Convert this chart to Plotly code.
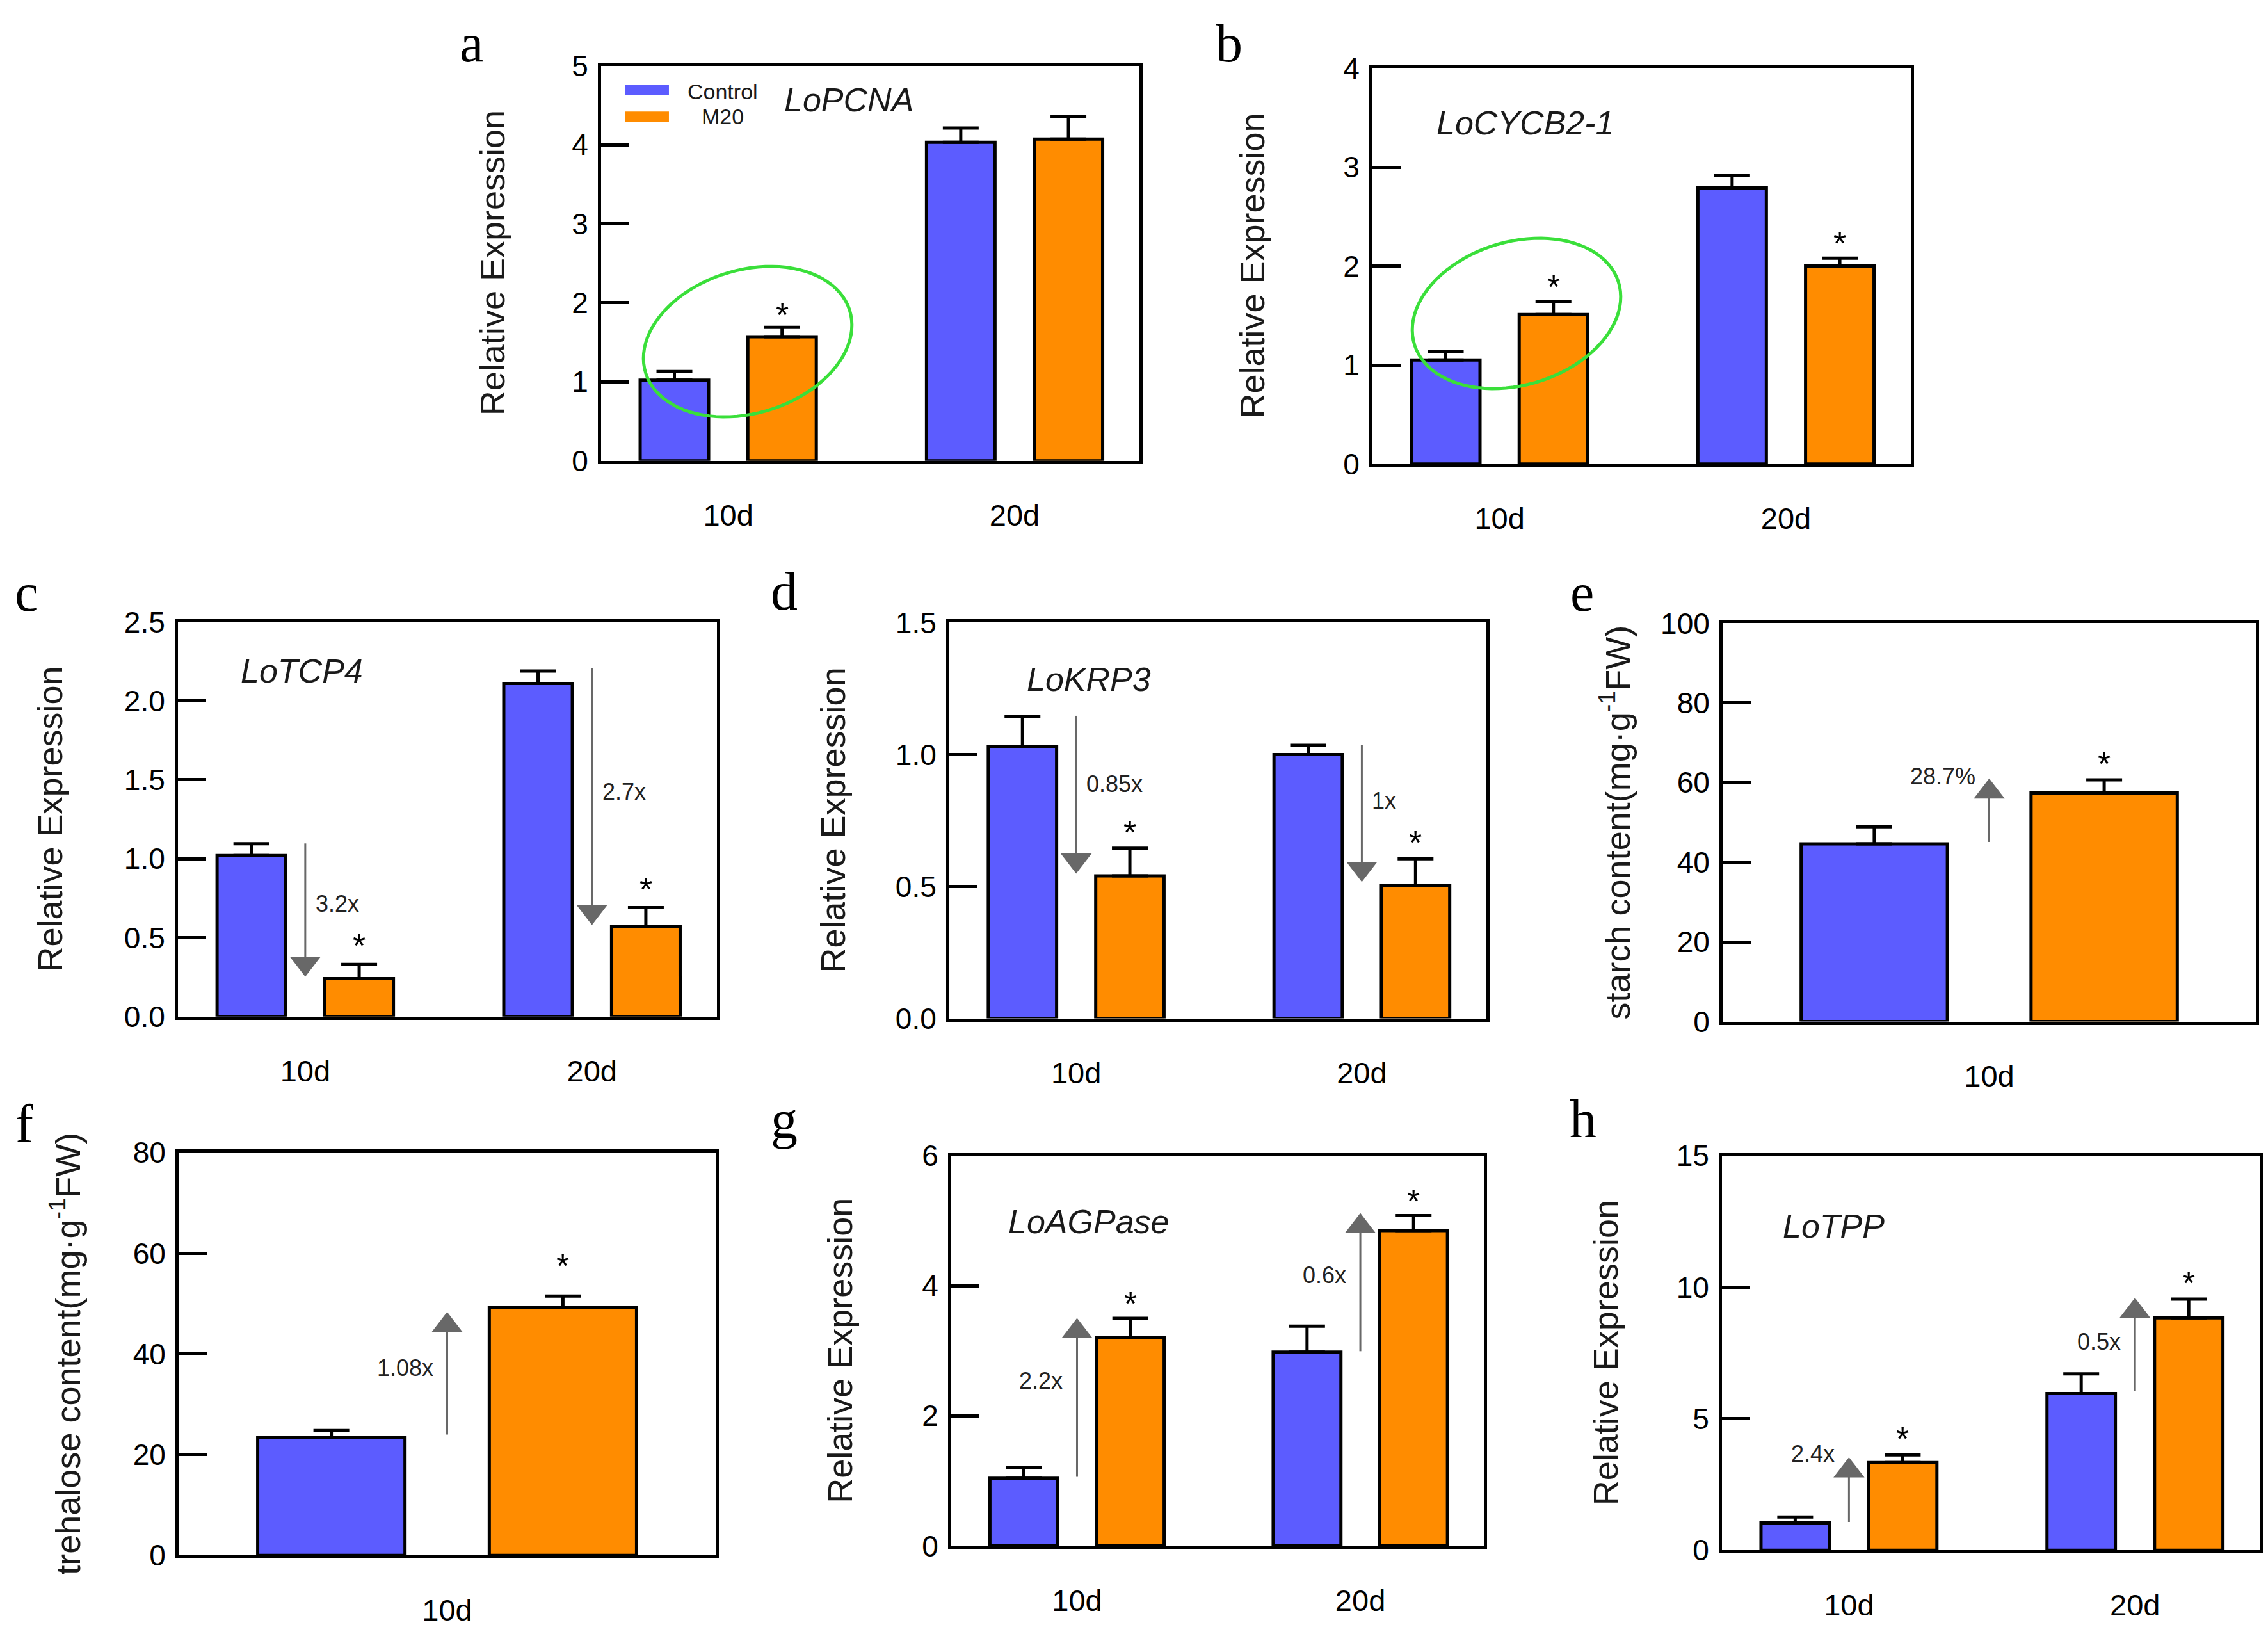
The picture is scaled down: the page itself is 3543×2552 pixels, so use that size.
import math
import plotly.graph_objects as go

W, H = 3543, 2552

BLUE = "#5c5cff"
ORANGE = "#ff8c00"
ARROW_GREY = "#686868"
GREEN = "#3adf3a"
SANS = "Liberation Sans, Arial, Helvetica, sans-serif"
SERIF = "Liberation Serif, Times New Roman, serif"

# ---------------- data ----------------
days2 = ["10d", "20d"]
days1 = ["10d"]

# a  LoPCNA
a_ctrl = [1.02, 4.03]
a_ctrl_err = [0.11, 0.18]
a_m20 = [1.57, 4.07]
a_m20_err = [0.12, 0.29]
a_sig = [True, False]
a_ticks = [0, 1, 2, 3, 4, 5]

# b  LoCYCB2-1
b_ctrl = [1.05, 2.79]
b_ctrl_err = [0.09, 0.13]
b_m20 = [1.51, 2.00]
b_m20_err = [0.13, 0.08]
b_sig = [True, True]
b_ticks = [0, 1, 2, 3, 4]

# c  LoTCP4
c_ctrl = [1.02, 2.11]
c_ctrl_err = [0.075, 0.08]
c_m20 = [0.24, 0.57]
c_m20_err = [0.09, 0.12]
c_sig = [True, True]
c_ticks = [0, 0.5, 1.0, 1.5, 2.0, 2.5]
c_fold = ["3.2x", "2.7x"]

# d  LoKRP3
d_ctrl = [1.03, 1.00]
d_ctrl_err = [0.115, 0.035]
d_m20 = [0.54, 0.505]
d_m20_err = [0.105, 0.10]
d_sig = [True, True]
d_ticks = [0, 0.5, 1.0, 1.5]
d_fold = ["0.85x", "1x"]

# e  starch content
e_ctrl = [44.6]
e_ctrl_err = [4.3]
e_m20 = [57.4]
e_m20_err = [3.3]
e_sig = [True]
e_ticks = [0, 20, 40, 60, 80, 100]
e_fold = ["28.7%"]

# f  trehalose content
f_ctrl = [23.4]
f_ctrl_err = [1.4]
f_m20 = [49.3]
f_m20_err = [2.2]
f_sig = [True]
f_ticks = [0, 20, 40, 60, 80]
f_fold = ["1.08x"]

# g  LoAGPase
g_ctrl = [1.04, 2.98]
g_ctrl_err = [0.16, 0.40]
g_m20 = [3.20, 4.85]
g_m20_err = [0.30, 0.23]
g_sig = [True, True]
g_ticks = [0, 2, 4, 6]
g_fold = ["2.2x", "0.6x"]

# h  LoTPP
h_ctrl = [1.04, 5.96]
h_ctrl_err = [0.23, 0.75]
h_m20 = [3.34, 8.84]
h_m20_err = [0.29, 0.71]
h_sig = [True, True]
h_ticks = [0, 5, 10, 15]
h_fold = ["2.4x", "0.5x"]

# fold-change arrows: (tail value, head-tip value, label value)
c_arrows = [(1.097, 0.254, 0.713), (2.206, 0.582, 1.425)]
d_arrows = [(1.147, 0.55, 0.889), (1.036, 0.518, 0.825)]
e_arrows = [(45.1, 61.0, 61.5)]
f_arrows = [(24.0, 48.3, 37.2)]
g_arrows = [(1.063, 3.5, 2.537), (2.995, 5.116, 4.168)]
h_arrows = [(1.08, 3.53, 3.68), (6.06, 9.59, 7.93)]

YT = "Relative Expression"

panels = [
    dict(letter="a", lpos=(728, 34), cats=days2, ctrl=a_ctrl, ce=a_ctrl_err, m20=a_m20, me=a_m20_err,
         sig=a_sig, ticks=a_ticks, fmt="", box=(931, 70, 1772, 700), gene="LoPCNA", gpos=(0.338, 0.913),
         title=YT, toff=170, arrows=[], fold=[], side="right", star=-12),
    dict(letter="b", lpos=(1912, 34), cats=days2, ctrl=b_ctrl, ce=b_ctrl_err, m20=b_m20, me=b_m20_err,
         sig=b_sig, ticks=b_ticks, fmt="", box=(2136, 74, 2977, 705), gene="LoCYCB2-1", gpos=(0.116, 0.862),
         title=YT, toff=188, arrows=[], fold=[], side="right", star=-8),
    dict(letter="c", lpos=(33, 910), cats=days2, ctrl=c_ctrl, ce=c_ctrl_err, m20=c_m20, me=c_m20_err,
         sig=c_sig, ticks=c_ticks, fmt=".1f", box=(270, 957, 1112, 1586), gene="LoTCP4", gpos=(0.114, 0.876),
         title=YT, toff=200, arrows=c_arrows, fold=c_fold, side="right", star=-2),
    dict(letter="d", lpos=(1217, 908), cats=days2, ctrl=d_ctrl, ce=d_ctrl_err, m20=d_m20, me=d_m20_err,
         sig=d_sig, ticks=d_ticks, fmt=".1f", box=(1475, 958, 2314, 1589), gene="LoKRP3", gpos=(0.142, 0.857),
         title=YT, toff=182, arrows=d_arrows, fold=d_fold, side="right", star=-6),
    dict(letter="e", lpos=(2463, 910), cats=days1, ctrl=e_ctrl, ce=e_ctrl_err, m20=e_m20, me=e_m20_err,
         sig=e_sig, ticks=e_ticks, fmt="", box=(2683, 959, 3516, 1594), gene=None, gpos=None,
         title="starch content(mg·g<sup>-1</sup>FW)", toff=167, arrows=e_arrows, fold=e_fold, side="left", star=-6),
    dict(letter="f", lpos=(30, 1756), cats=days1, ctrl=f_ctrl, ce=f_ctrl_err, m20=f_m20, me=f_m20_err,
         sig=f_sig, ticks=f_ticks, fmt="", box=(271, 1803, 1110, 2445), gene=None, gpos=None,
         title="trehalose content(mg·g<sup>-1</sup>FW)", toff=177, arrows=f_arrows, fold=f_fold, side="left", star=16),
    dict(letter="g", lpos=(1217, 1750), cats=days2, ctrl=g_ctrl, ce=g_ctrl_err, m20=g_m20, me=g_m20_err,
         sig=g_sig, ticks=g_ticks, fmt="", box=(1478, 1808, 2310, 2430), gene="LoAGPase", gpos=(0.104, 0.831),
         title=YT, toff=174, arrows=g_arrows, fold=g_fold, side="left", star=-8),
    dict(letter="h", lpos=(2465, 1749), cats=days2, ctrl=h_ctrl, ce=h_ctrl_err, m20=h_m20, me=h_m20_err,
         sig=h_sig, ticks=h_ticks, fmt="", box=(2682, 1808, 3522, 2437), gene="LoTPP", gpos=(0.111, 0.822),
         title=YT, toff=182, arrows=h_arrows, fold=h_fold, side="left", star=-6),
]

HEAD_SIZE = 42          # marker size of arrow heads (px)
HEAD_R = HEAD_SIZE / 2  # triangle tip lies HEAD_R px from the marker centre

fig = go.Figure()
annotations = []
shapes = []
layout = {}

for i, p in enumerate(panels, start=1):
    sfx = "" if i == 1 else str(i)
    xa, ya = "x" + sfx, "y" + sfx
    x0, y0, x1, y1 = p["box"]
    cats = p["cats"]
    n = len(cats)
    ymax = p["ticks"][-1]
    px_per_unit = (y1 - y0) / ymax

    for vals, errs, col in ((p["ctrl"], p["ce"], BLUE), (p["m20"], p["me"], ORANGE)):
        fig.add_trace(go.Bar(
            x=cats, y=vals, xaxis=xa, yaxis=ya, showlegend=False, hoverinfo="skip",
            marker=dict(color=col, line=dict(color="black", width=5)),
            error_y=dict(type="data", array=errs, arrayminus=[0] * n, symmetric=False,
                         color="black", thickness=5, width=28),
        ))

    # fold-change arrows (shaft + triangular head) and their labels
    for k, (tail, tip, lyv) in enumerate(p["arrows"]):
        up = tip > tail
        centre = tip - HEAD_R / px_per_unit if up else tip + HEAD_R / px_per_unit
        fig.add_trace(go.Scatter(
            x=[cats[k], cats[k]], y=[tail, centre], mode="lines", xaxis=xa, yaxis=ya,
            line=dict(color=ARROW_GREY, width=3), showlegend=False, hoverinfo="skip",
        ))
        fig.add_trace(go.Scatter(
            x=[cats[k]], y=[centre], mode="markers", xaxis=xa, yaxis=ya,
            marker=dict(symbol="triangle-up" if up else "triangle-down", size=HEAD_SIZE,
                        color=ARROW_GREY, line=dict(width=0)),
            showlegend=False, hoverinfo="skip",
        ))
        right = p["side"] == "right"
        annotations.append(dict(
            x=cats[k], y=lyv, xref=xa, yref=ya, text=p["fold"][k], showarrow=False,
            xanchor="left" if right else "right", xshift=14 if right else -20,
            font=dict(family=SANS, size=36, color="#222222"),
        ))

    xr = [-0.444, 1.436] if n == 2 else [-0.436, 0.436]
    layout["xaxis" + sfx] = dict(
        domain=[x0 / W, x1 / W], anchor=ya, type="category", range=xr,
        showline=True, mirror=True, linecolor="black", linewidth=5,
        ticks="", showgrid=False, zeroline=False,
        tickfont=dict(family=SANS, size=47, color="black"), ticklabelstandoff=40,
    )
    layout["yaxis" + sfx] = dict(
        domain=[1 - y1 / H, 1 - y0 / H], anchor=xa, range=[0, ymax],
        tickvals=p["ticks"], tickformat=p["fmt"],
        showline=True, mirror=True, linecolor="black", linewidth=5,
        ticks="inside", ticklen=44, tickwidth=5, tickcolor="black",
        showgrid=False, zeroline=False,
        tickfont=dict(family=SANS, size=46, color="black"), ticklabelstandoff=6,
    )

    # significance asterisks
    for k, s in enumerate(p["sig"]):
        if s:
            annotations.append(dict(
                x=k + 0.188, y=p["m20"][k] + p["me"][k], xref=xa, yref=ya,
                text="*", showarrow=False, yanchor="bottom", yshift=p["star"],
                font=dict(family=SANS, size=52, color="black"),
            ))

    # gene name
    if p["gene"]:
        annotations.append(dict(
            x=p["gpos"][0], y=p["gpos"][1], xref=xa + " domain", yref=ya + " domain",
            text="<i>%s</i>" % p["gene"], showarrow=False, xanchor="left", yanchor="middle",
            font=dict(family=SANS, size=52, color="#1a1a1a"),
        ))

    # y-axis title
    annotations.append(dict(
        x=(x0 - p["toff"]) / W, y=0.5, xref="paper", yref=ya + " domain",
        text=p["title"], textangle=-90, showarrow=False, xanchor="center", yanchor="middle",
        font=dict(family=SANS, size=54, color="#1a1a1a"),
    ))

    # panel letter
    lx, lyp = p["lpos"]
    annotations.append(dict(
        x=lx / W, y=1 - lyp / H, xref="paper", yref="paper", text=p["letter"], showarrow=False,
        xanchor="center", yanchor="middle", font=dict(family=SERIF, size=84, color="black"),
    ))

# legend drawn inside panel a
for col, yb, yt, lab, yl in ((BLUE, 0.925, 0.952, "Control", 0.935), (ORANGE, 0.857, 0.884, "M20", 0.871)):
    shapes.append(dict(type="rect", xref="x domain", yref="y domain", x0=0.044, x1=0.126, y0=yb, y1=yt,
                       fillcolor=col, line=dict(width=0)))
    annotations.append(dict(x=0.226, y=yl, xref="x domain", yref="y domain", text=lab, showarrow=False,
                            xanchor="center", yanchor="middle", font=dict(family=SANS, size=34, color="#1a1a1a")))


# green hand-drawn ellipses in panels a and b
def ellipse_path(cx, cy, a, b, theta_deg, n=90):
    th = math.radians(theta_deg)
    pts = []
    for j in range(n + 1):
        t = 2 * math.pi * j / n
        x = cx + a * math.cos(t) * math.cos(th) + b * math.sin(t) * math.sin(th)
        y = cy - a * math.cos(t) * math.sin(th) + b * math.sin(t) * math.cos(th)
        pts.append((x / W, 1 - y / H))
    return "M" + " L".join("%.5f,%.5f" % q for q in pts) + " Z"


for cx, cy in ((1160, 510), (2361, 465)):
    shapes.append(dict(type="path", xref="paper", yref="paper", path=ellipse_path(cx, cy, 167, 114, 17.7),
                       line=dict(color=GREEN, width=5)))

fig.update_layout(
    width=W, height=H, margin=dict(l=0, r=0, t=0, b=0),
    paper_bgcolor="white", plot_bgcolor="white",
    barmode="group", bargap=0.248, bargroupgap=0.364,
    annotations=annotations, shapes=shapes, showlegend=False,
    **layout,
)

fig.write_html("out.html")
